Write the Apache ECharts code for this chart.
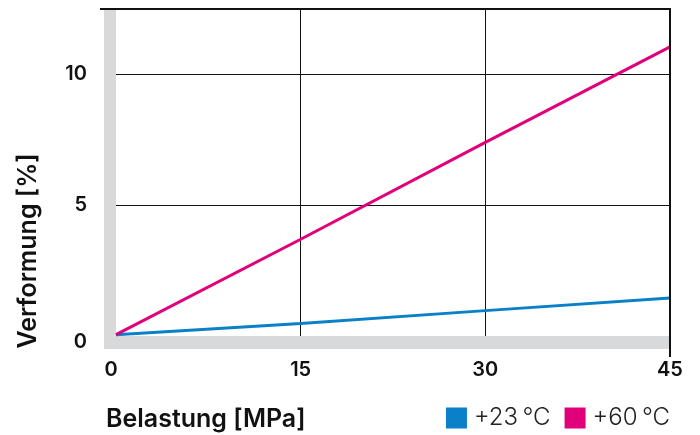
<!DOCTYPE html>
<html><head><meta charset="utf-8">
<script src="https://cdn.jsdelivr.net/npm/echarts@6/dist/echarts.min.js"></script>
<style>html,body{margin:0;padding:0;background:#fff}#c{width:700px;height:435px}</style>
</head><body><div id="c"></div>
<script>
// ---- data ----
const loads = [0, 15, 30, 45];                 // Belastung [MPa]
const def23 = [0.05, 0.48, 0.97, 1.45];        // Verformung [%] at +23 °C
const def60 = [0.05, 3.70, 7.40, 11.05];       // Verformung [%] at +60 °C
const seriesNames = ['+23\u2009°C', '+60\u2009°C'];
const xTickLabels = ['0', '15', '30', '45'];
const yTickLabels = ['0', '5', '10'];
const xTitle = 'Belastung [MPa]';
const yTitle = 'Verformung [%]';

const FONT = 'Inter, "Liberation Sans", Arial, sans-serif';
const LFONT = 'Inter, Roboto, sans-serif';
const BAND = '#d8d9da';
const INK = '#111';

const chart = echarts.init(document.getElementById('c'), null, {renderer: 'canvas'});
const lblStyle = {fontFamily: FONT, fontSize: 20, fontWeight: 600, color: INK};

chart.setOption({
  animation: false,
  backgroundColor: '#fff',
  grid: {left: 116, right: 30, top: 9, bottom: 99, containLabel: false, outerBoundsMode: 'none'},
  legend: {
    right: 30, top: 406, padding: 0, itemWidth: 21, itemHeight: 21, itemGap: 14,
    icon: 'rect', selectedMode: false,
    textStyle: {fontFamily: LFONT, fontSize: 24, fontWeight: 300, color: '#222', padding: [0, 0, 0, 2]},
    data: seriesNames
  },
  xAxis: {
    type: 'value', min: 0, max: 45, interval: 15, offset: 13,
    axisLine: {show: false},
    axisTick: {show: true, length: 8, lineStyle: {color: INK, width: 1}},
    splitLine: {show: true, showMinLine: false, lineStyle: {color: INK, width: 1}},
    axisLabel: {
      margin: 11, ...lblStyle,
      formatter: v => { const i = [0,15,30,45].indexOf(v); const t = i >= 0 ? xTickLabels[i] : ''; return v === 0 ? '{z|' + t + '}' : t; },
      rich: {z: {...lblStyle, padding: [0, 10, 0, 0]}}
    }
  },
  yAxis: {
    type: 'value', min: 0, max: 12.5, interval: 5, offset: 12,
    axisLine: {show: false},
    axisTick: {show: true, length: 4, lineStyle: {color: INK, width: 1}},
    splitLine: {show: true, showMinLine: false, lineStyle: {color: INK, width: 1}},
    axisLabel: {
      margin: 17, showMaxLabel: false, ...lblStyle,
      formatter: v => { const i = [0,5,10].indexOf(v); const t = i >= 0 ? yTickLabels[i] : ''; return v === 0 ? '{z|' + t + '}' : t; },
      rich: {z: {...lblStyle, padding: [12, 0, 0, 0]}}
    }
  },
  series: [
    {name: seriesNames[0], type: 'line', data: loads.map((x, i) => [x, def23[i]]), symbol: 'none',
     lineStyle: {color: '#0a80c8', width: 3}, itemStyle: {color: '#0a80c8'}, z: 3},
    {name: seriesNames[1], type: 'line', data: loads.map((x, i) => [x, def60[i]]), symbol: 'none',
     lineStyle: {color: '#e2007a', width: 3}, itemStyle: {color: '#e2007a'}, z: 3}
  ]
});

const p0 = chart.convertToPixel({gridIndex: 0}, [0, 0]);
const p1 = chart.convertToPixel({gridIndex: 0}, [45, 12.5]);
const bw = 12, bh = 13;
chart.setOption({
  graphic: [
    {type: 'rect', z: 1, silent: true, shape: {x: p0[0] - bw, y: p1[1], width: bw, height: p0[1] + bh - p1[1]}, style: {fill: BAND}},
    {type: 'rect', z: 1, silent: true, shape: {x: p0[0] - bw, y: p0[1], width: p1[0] - p0[0] + bw, height: bh}, style: {fill: BAND}},
    {type: 'line', z: 4, silent: true, shape: {x1: p0[0] - bw - 4, y1: p1[1], x2: p1[0] + 1, y2: p1[1]}, style: {stroke: INK, lineWidth: 2}},
    {type: 'line', z: 4, silent: true, shape: {x1: p1[0], y1: p1[1], x2: p1[0], y2: p0[1] + bh + 8}, style: {stroke: INK, lineWidth: 2}},
    {type: 'text', z: 5, silent: true, style: {text: xTitle, x: 106, y: 419, align: 'left', verticalAlign: 'middle', fontFamily: FONT, fontSize: 25, fontWeight: 600, fill: INK}},
    {type: 'text', z: 5, silent: true, x: 28, y: 251, rotation: Math.PI / 2, style: {text: yTitle, x: 0, y: 0, align: 'center', verticalAlign: 'middle', fontFamily: FONT, fontSize: 25, fontWeight: 600, fill: INK}}
  ]
});
</script>
</body></html>
